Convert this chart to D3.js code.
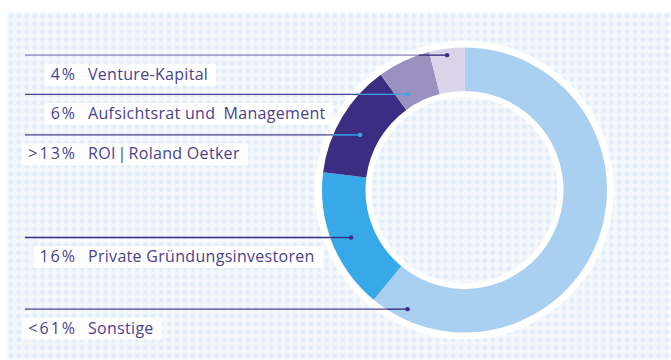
<!DOCTYPE html>
<html><head><meta charset="utf-8">
<script src="https://cdn.jsdelivr.net/npm/d3@7"></script>
<style>
html,body{margin:0;padding:0;background:#fff;}
svg{display:block;}
</style>
</head><body>
<svg id="chart" width="671" height="360"></svg>
<script>
// Shareholder structure, listed top to bottom as in the legend
const categories = [
  "Venture-Kapital",
  "Aufsichtsrat und\u2002Management",
  "ROI\u200A|\u200ARoland Oetker",
  "Private Gründungsinvestoren",
  "Sonstige"
];
const shares = [4, 6, 13, 16, 61];
const shareLabels = ["4%", "6%", ">13%", "16%", "<61%"];

// Styling per slice
const sliceColors = ["#d9d4e8", "#9b91c1", "#3b2d81", "#38a9e8", "#aad0f1"];
const leaderOuter = ["#8a82bc", "#4e4393", "#4e4393", "#3b2d81", "#4e4393"];
const leaderInner = ["#3b2d81", "#38a9e8", "#38a9e8", "#3b2d81", "#3b2d81"];
// leader anchor: fraction along the slice's angle, fraction across the ring
const anchorAlong = [0.49, 0.23, 0.44, 0.48, 0.936];
const anchorAcross = [0.85, 0.29, 0.44, 0.55, 0.76];

const W = 671, H = 360;
const cx = 464.5, cy = 190, R = 142.5, r0 = 99;
const textColor = "#4a3f8e";
const lineStart = 25, pctRight = 75, nameLeft = 88;
const pctSpacing = 2;

const svg = d3.select("#chart");
const defs = svg.append("defs");

// dotted backdrop
const pat = defs.append("pattern")
  .attr("id", "dots").attr("patternUnits", "userSpaceOnUse")
  .attr("x", 7).attr("y", 12).attr("width", 7.9).attr("height", 7.9);
pat.append("rect").attr("width", 7.9).attr("height", 7.9).attr("fill", "#f9fbfe");
pat.append("rect").attr("x", 1.6).attr("y", 1.6).attr("width", 4.6).attr("height", 4.6)
  .attr("fill", "#dae8f7");
defs.append("filter").attr("id", "soft")
  .append("feGaussianBlur").attr("stdDeviation", 0.8);

svg.append("rect").attr("width", W).attr("height", H).attr("fill", "#fff");
svg.append("rect").attr("x", 7).attr("y", 12).attr("width", W - 7).attr("height", H - 12)
  .attr("fill", "url(#dots)").attr("filter", "url(#soft)");

// white halo behind the ring
svg.append("path")
  .attr("transform", `translate(${cx},${cy})`)
  .attr("d", d3.arc().innerRadius(r0 - 6).outerRadius(R + 7).startAngle(0).endAngle(2 * Math.PI)())
  .attr("fill", "#fff");

// pie runs clockwise from 12 o'clock starting with the largest holder
const rows = categories.map((c, i) => ({ name: c, value: shares[i], label: shareLabels[i], i }));
const pie = d3.pie().sort(null).value(d => d.value);
const arcs = pie(rows.slice().reverse());
const arc = d3.arc().innerRadius(r0).outerRadius(R);

svg.append("g").attr("transform", `translate(${cx},${cy})`)
  .selectAll("path").data(arcs).join("path")
  .attr("d", arc)
  .attr("fill", d => sliceColors[d.data.i]);

// leader lines and labels
const byIndex = {};
arcs.forEach(a => { byIndex[a.data.i] = a; });

const lab = svg.append("g")
  .style("font-family", "'Open Sans', 'Noto Sans', sans-serif")
  .style("font-size", "16px")
  .attr("fill", textColor);

rows.forEach((d, i) => {
  const a = byIndex[i];
  const ang = a.startAngle + anchorAlong[i] * (a.endAngle - a.startAngle);
  const rad = r0 + anchorAcross[i] * (R - r0);
  const dx = cx + rad * Math.sin(ang);
  const dy = cy - rad * Math.cos(ang);
  const enter = cx - Math.sqrt(Math.max(0, R * R - (dy - cy) * (dy - cy)));

  svg.append("line").attr("x1", lineStart).attr("x2", enter)
    .attr("y1", dy).attr("y2", dy)
    .attr("stroke", leaderOuter[i]).attr("stroke-width", 1.4);
  svg.append("line").attr("x1", enter).attr("x2", dx)
    .attr("y1", dy).attr("y2", dy)
    .attr("stroke", leaderInner[i]).attr("stroke-width", 1.4);
  svg.append("circle").attr("cx", dx).attr("cy", dy).attr("r", 2.2)
    .attr("fill", leaderInner[i]);

  const base = dy + 24.5;
  const g = lab.append("g");
  const bg = g.append("rect").attr("fill", "#fff");
  const p = g.append("text").attr("x", pctRight + pctSpacing).attr("y", base)
    .attr("text-anchor", "end").style("letter-spacing", pctSpacing + "px").text(d.label);
  const n = g.append("text").attr("x", nameLeft).attr("y", base)
    .style("letter-spacing", "0.3px").text(d.name);
  const pb = p.node().getBBox(), nb = n.node().getBBox();
  bg.attr("x", pb.x - 6).attr("y", base - 16)
    .attr("width", nb.x + nb.width + 8 - (pb.x - 6)).attr("height", 22);
});
</script>
</body></html>
